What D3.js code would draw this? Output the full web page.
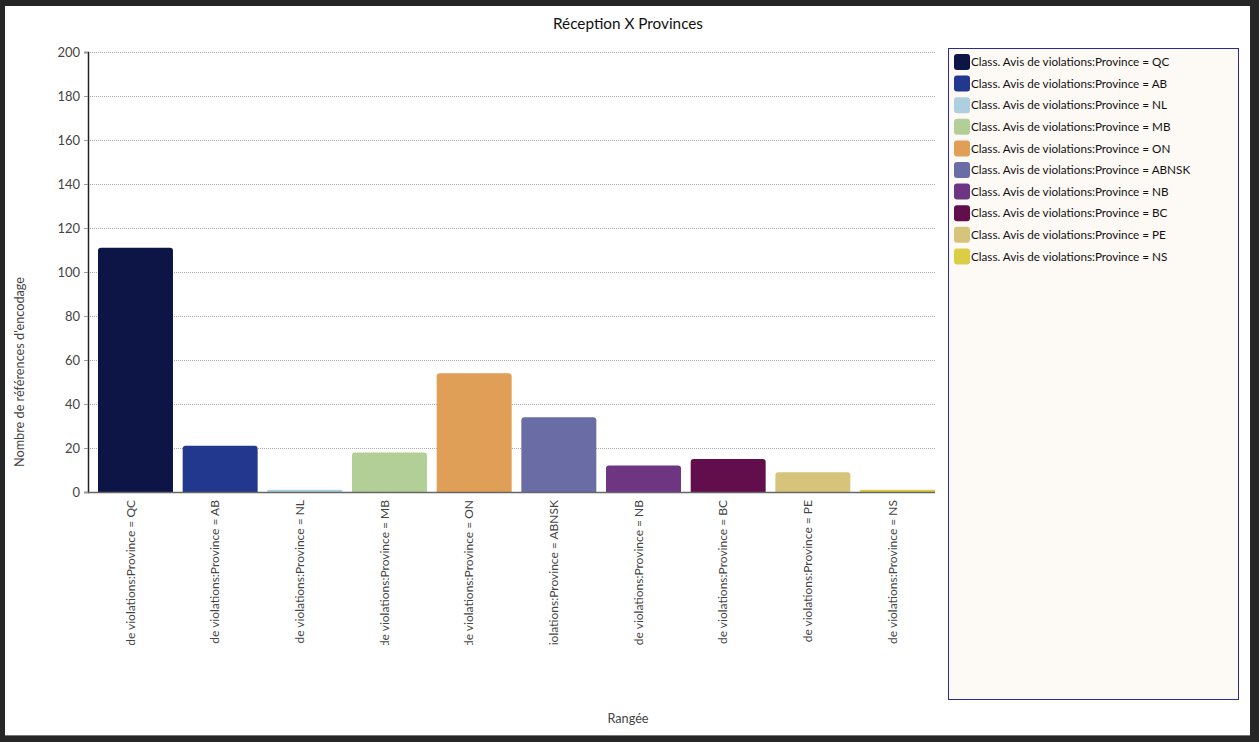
<!DOCTYPE html>
<html><head><meta charset="utf-8">
<script src="https://cdn.jsdelivr.net/npm/d3@7"></script>
<style>
html,body{margin:0;padding:0;background:#262626;}
svg{display:block;font-family:Lato,"Open Sans",sans-serif;}
</style></head>
<body>
<svg id="c" width="1259" height="742"></svg>
<script>
const provinces = ["QC","AB","NL","MB","ON","ABNSK","NB","BC","PE","NS"];
const values = [111,21,1,18,54,34,12,15,9,1];
const colors = ["#0d1547","#22388f","#aecfe0","#b3cf98","#e09f56","#6a6ca6","#6e3583","#620e4c","#d6c47b","#dbcd46"];
const yTicks = [0,20,40,60,80,100,120,140,160,180,200];
const prefix = "Class. Avis de violations:Province = ";
const categories = provinces.map(p => prefix + p);
const title = "Réception X Provinces";
const yTitle = "Nombre de références d'encodage";
const xTitle = "Rangée";

const svg = d3.select("#c");
// page frame
svg.append("rect").attr("x",0).attr("y",0).attr("width",1259).attr("height",742).attr("fill","#262626");
svg.append("rect").attr("x",5).attr("y",6).attr("width",1245).attr("height",729).attr("fill","#ffffff");
svg.append("line").attr("x1",5).attr("x2",1250).attr("y1",735.5).attr("y2",735.5).attr("stroke","#777").attr("stroke-width",1);

const m = {left:88, right:935, top:52, bottom:492};
const x = d3.scaleBand().domain(categories).range([98, m.right]).paddingInner(0.1145).paddingOuter(0);
const y = d3.scaleLinear().domain([0,200]).range([m.bottom, m.top]);

// title
svg.append("text").attr("x",628).attr("y",29).attr("text-anchor","middle")
  .attr("font-size",15.3).attr("fill","#111").text(title);

// grid
svg.append("g").selectAll("line").data(yTicks.filter(d=>d>0)).join("line")
  .attr("x1",m.left).attr("x2",m.right).attr("y1",d=>Math.round(y(d))+0.5).attr("y2",d=>Math.round(y(d))+0.5)
  .attr("stroke","#aaa").attr("stroke-dasharray","1,1").attr("stroke-width",1);

// bars
svg.append("g").selectAll("path").data(values).join("path")
  .attr("d",(d,i)=>{
    const x0 = x(categories[i]), w = x.bandwidth(), y0 = y(d), y1 = y(0);
    const r = Math.min(3, (y1-y0)/2);
    return `M${x0},${y1}V${y0+r}Q${x0},${y0} ${x0+r},${y0}H${x0+w-r}Q${x0+w},${y0} ${x0+w},${y0+r}V${y1}Z`;
  })
  .attr("fill",(d,i)=>colors[i]);

// y axis
const ya = svg.append("g").attr("transform",`translate(${m.left},0)`)
  .call(d3.axisLeft(y).tickValues(yTicks).tickSize(4).tickPadding(4));
ya.select(".domain").attr("stroke","#222").attr("stroke-width",1.5);
ya.selectAll(".tick line").attr("stroke","#999");
ya.selectAll("text").attr("font-size",13).attr("fill","#444").attr("font-family","Lato,sans-serif");

// x axis line
svg.append("line").attr("x1",m.left).attr("x2",m.right).attr("y1",m.bottom+0.5).attr("y2",m.bottom+0.5)
  .attr("stroke","#666").attr("stroke-width",1.5);

// x labels, rotated and clipped
svg.append("defs").append("clipPath").attr("id","xclip")
  .append("rect").attr("x",m.left).attr("y",m.bottom).attr("width",m.right-m.left+10).attr("height",645-m.bottom);
const xa = svg.append("g").attr("clip-path","url(#xclip)")
  .append("g").attr("transform",`translate(-5,${m.bottom})`)
  .call(d3.axisBottom(x).tickSize(0).tickPadding(0));
xa.select(".domain").remove();
xa.selectAll(".tick text").attr("font-size",12).attr("fill","#444").attr("font-family","Lato,sans-serif")
  .attr("text-anchor","end").attr("transform","rotate(-90)").attr("x",-8).attr("y",0).attr("dy","0.35em");

// axis titles
svg.append("text").attr("transform","translate(24,372) rotate(-90)").attr("text-anchor","middle")
  .attr("font-size",12.7).attr("fill","#444").text(yTitle);
svg.append("text").attr("x",628).attr("y",723).attr("text-anchor","middle")
  .attr("font-size",12.7).attr("fill","#444").text(xTitle);

// legend
const lg = svg.append("g");
lg.append("rect").attr("x",948.5).attr("y",48.5).attr("width",290).attr("height",651)
  .attr("fill","#fdf9f5").attr("stroke","#2a2aa0").attr("stroke-width",1);
const items = lg.selectAll("g.item").data(categories).join("g").attr("class","item")
  .attr("transform",(d,i)=>`translate(954,${62 + i*21.6})`);
items.append("rect").attr("x",0).attr("y",-8).attr("width",16).attr("height",16).attr("rx",3)
  .attr("fill",(d,i)=>colors[i]);
items.append("text").attr("x",17).attr("y",0).attr("dy","0.35em").attr("font-size",11.7).attr("fill","#111").text(d=>d);
</script>
</body></html>
